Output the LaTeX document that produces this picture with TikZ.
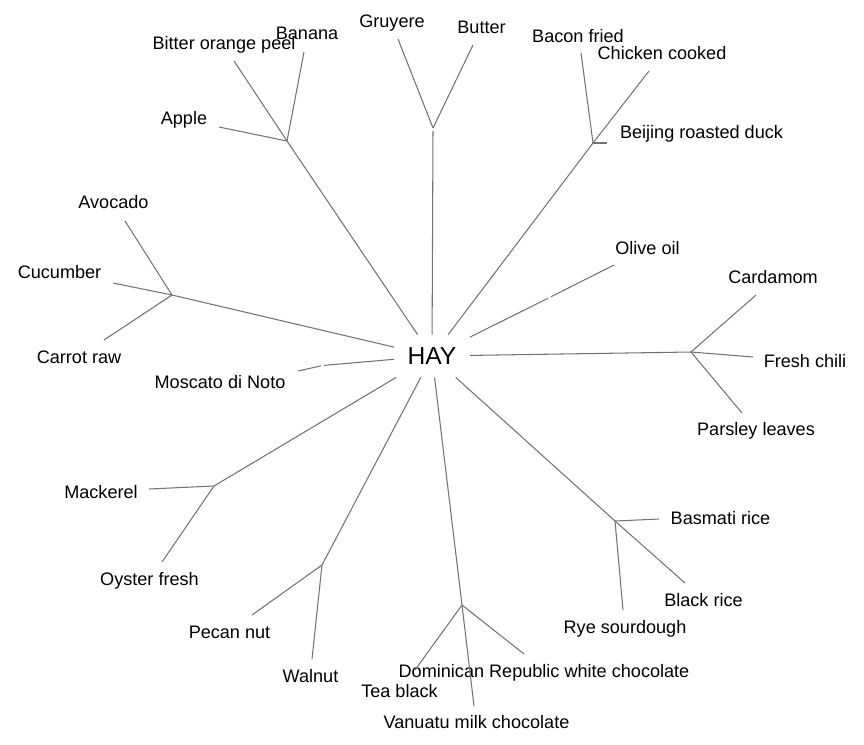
\documentclass[tikz,border=0pt]{standalone}
\usepackage{fontspec}
\setmainfont{Liberation Sans}
\begin{document}
\begin{tikzpicture}[x=0.02cm,y=-0.02cm,
  food/.style={anchor=base,inner sep=0pt,font=\fontsize{10.3}{12}\selectfont},
  hub/.style={inner sep=0pt,minimum width=1.5cm,minimum height=0.84cm,font=\fontsize{14}{16}\selectfont},
  branch/.style={draw=black!55,line width=0.6pt}]
\useasboundingbox (0,0) rectangle (864,744);
\node[hub] (HAY) at (432,356) {HAY};
% labels
\node[food] (banana) at (307,39) {Banana};
\node[food] (bitter) at (224,49) {Bitter orange peel};
\node[food] (gruyere) at (392,27) {Gruyere};
\node[food] (butter) at (481.5,33) {Butter};
\node[food] (apple) at (184,124) {Apple};
\node[food] (bacon) at (578,42) {Bacon fried};
\node[food] (chicken) at (662,59) {Chicken cooked};
\node[food] (duck) at (701.5,138) {Beijing roasted duck};
\node[food] (avocado) at (113.5,208) {Avocado};
\node[food] (cucumber) at (59.5,278) {Cucumber};
\node[food] (carrot) at (79,363) {Carrot raw};
\node[food] (moscato) at (220,388) {Moscato di Noto};
\node[food] (olive) at (647.5,254) {Olive oil};
\node[food] (cardamom) at (773,283) {Cardamom};
\node[food] (chili) at (805,367) {Fresh chili};
\node[food] (parsley) at (756,435) {Parsley leaves};
\node[food] (mackerel) at (101,498) {Mackerel};
\node[food] (oyster) at (149.5,585) {Oyster fresh};
\node[food] (pecan) at (229.5,638) {Pecan nut};
\node[food] (walnut) at (310.5,682) {Walnut};
\node[food] (basmati) at (720.5,524) {Basmati rice};
\node[food] (blackrice) at (703.5,606) {Black rice};
\node[food] (rye) at (625,633) {Rye sourdough};
\node[food] (dominican) at (544,677) {Dominican Republic white chocolate};
\node[food] (tea) at (399.5,697) {Tea black};
\node[food] (vanuatu) at (476.5,728) {Vanuatu milk chocolate};
% inner points
\coordinate (fruit) at (287,141);
\coordinate (dairy) at (433,128);
\coordinate (meat) at (593,143);
\coordinate (oilmid) at (549.5,297.5);
\coordinate (spice) at (691,352);
\coordinate (grain) at (615,521);
\coordinate (choc) at (462,605);
\coordinate (nut) at (322,565);
\coordinate (fish) at (214,486);
\coordinate (winemid) at (322.5,365.5);
\coordinate (veg) at (172,295);
% leaf ends
\coordinate (t-bitter) at (234,61);
\coordinate (t-banana) at (304,52);
\coordinate (t-apple) at (219,127);
\coordinate (t-gruyere) at (398,39);
\coordinate (t-butter) at (473,45);
\coordinate (t-bacon) at (581,53);
\coordinate (t-chicken) at (649,71);
\coordinate (t-duck) at (607,143);
\coordinate (t-olive) at (614,265);
\coordinate (t-cardamom) at (756,295);
\coordinate (t-chili) at (753,357);
\coordinate (t-parsley) at (742,413);
\coordinate (t-basmati) at (659,519);
\coordinate (t-blackrice) at (685,583);
\coordinate (t-rye) at (623,610);
\coordinate (t-tea) at (415,670);
\coordinate (t-vanuatu) at (474,706);
\coordinate (t-dominican) at (524,654);
\coordinate (t-pecan) at (252,615);
\coordinate (t-walnut) at (312,659);
\coordinate (t-mackerel) at (149,489);
\coordinate (t-oyster) at (162,562);
\coordinate (t-moscato) at (298,371);
\coordinate (t-avocado) at (125,221);
\coordinate (t-cucumber) at (113,283);
\coordinate (t-carrot) at (104,340);
% branches
\draw[branch] (HAY) -- (fruit);
\draw[branch] (fruit) -- (t-bitter);
\draw[branch] (fruit) -- (t-banana);
\draw[branch] (fruit) -- (t-apple);
\draw[branch,shorten >=1.7pt] (HAY) -- (dairy);
\draw[branch] (dairy) -- (t-gruyere);
\draw[branch] (dairy) -- (t-butter);
\draw[branch] (HAY) -- (meat);
\draw[branch] (meat) -- (t-bacon);
\draw[branch] (meat) -- (t-chicken);
\draw[branch] (meat) -- (t-duck);
\draw[branch,shorten >=0.85pt] (HAY) -- (oilmid);
\draw[branch,shorten <=0.85pt] (oilmid) -- (t-olive);
\draw[branch] (HAY) -- (spice);
\draw[branch] (spice) -- (t-cardamom);
\draw[branch] (spice) -- (t-chili);
\draw[branch] (spice) -- (t-parsley);
\draw[branch] (HAY) -- (grain);
\draw[branch] (grain) -- (t-basmati);
\draw[branch] (grain) -- (t-blackrice);
\draw[branch] (grain) -- (t-rye);
\draw[branch] (HAY) -- (choc);
\draw[branch] (choc) -- (t-tea);
\draw[branch] (choc) -- (t-vanuatu);
\draw[branch] (choc) -- (t-dominican);
\draw[branch] (HAY) -- (nut);
\draw[branch] (nut) -- (t-pecan);
\draw[branch] (nut) -- (t-walnut);
\draw[branch] (HAY) -- (fish);
\draw[branch] (fish) -- (t-mackerel);
\draw[branch] (fish) -- (t-oyster);
\draw[branch,shorten >=0.85pt] (HAY) -- (winemid);
\draw[branch,shorten <=0.85pt] (winemid) -- (t-moscato);
\draw[branch] (HAY) -- (veg);
\draw[branch] (veg) -- (t-avocado);
\draw[branch] (veg) -- (t-cucumber);
\draw[branch] (veg) -- (t-carrot);
\end{tikzpicture}
\end{document}
